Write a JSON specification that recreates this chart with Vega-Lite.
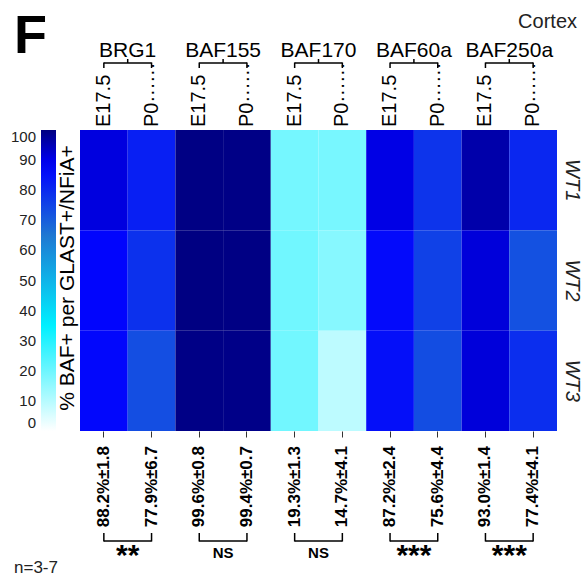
{
  "$schema": "https://vega.github.io/schema/vega-lite/v6.json",
  "width": 477,
  "height": 301,
  "autosize": {"type": "none"},
  "padding": {"left": 80, "top": 130, "right": 31, "bottom": 148},
  "background": "white",
  "config": {
    "view": {"stroke": null},
    "font": "Liberation Sans",
    "text": {"color": "black"},
    "rule": {"color": "black", "strokeWidth": 1.5}
  },
  "datasets": {
    "cells": [
      {"col": "BRG1 E17.5", "protein": "BRG1", "time": "E17.5", "rep": "WT1", "value": 91},
      {"col": "BRG1 E17.5", "protein": "BRG1", "time": "E17.5", "rep": "WT2", "value": 87},
      {"col": "BRG1 E17.5", "protein": "BRG1", "time": "E17.5", "rep": "WT3", "value": 86.6},
      {"col": "BRG1 P0", "protein": "BRG1", "time": "P0", "rep": "WT1", "value": 82},
      {"col": "BRG1 P0", "protein": "BRG1", "time": "P0", "rep": "WT2", "value": 78.7},
      {"col": "BRG1 P0", "protein": "BRG1", "time": "P0", "rep": "WT3", "value": 73},
      {"col": "BAF155 E17.5", "protein": "BAF155", "time": "E17.5", "rep": "WT1", "value": 99.6},
      {"col": "BAF155 E17.5", "protein": "BAF155", "time": "E17.5", "rep": "WT2", "value": 99.8},
      {"col": "BAF155 E17.5", "protein": "BAF155", "time": "E17.5", "rep": "WT3", "value": 99.4},
      {"col": "BAF155 P0", "protein": "BAF155", "time": "P0", "rep": "WT1", "value": 99.4},
      {"col": "BAF155 P0", "protein": "BAF155", "time": "P0", "rep": "WT2", "value": 99.6},
      {"col": "BAF155 P0", "protein": "BAF155", "time": "P0", "rep": "WT3", "value": 99.2},
      {"col": "BAF170 E17.5", "protein": "BAF170", "time": "E17.5", "rep": "WT1", "value": 19},
      {"col": "BAF170 E17.5", "protein": "BAF170", "time": "E17.5", "rep": "WT2", "value": 19.5},
      {"col": "BAF170 E17.5", "protein": "BAF170", "time": "E17.5", "rep": "WT3", "value": 19.4},
      {"col": "BAF170 P0", "protein": "BAF170", "time": "P0", "rep": "WT1", "value": 18.5},
      {"col": "BAF170 P0", "protein": "BAF170", "time": "P0", "rep": "WT2", "value": 16.5},
      {"col": "BAF170 P0", "protein": "BAF170", "time": "P0", "rep": "WT3", "value": 9.1},
      {"col": "BAF60a E17.5", "protein": "BAF60a", "time": "E17.5", "rep": "WT1", "value": 90.5},
      {"col": "BAF60a E17.5", "protein": "BAF60a", "time": "E17.5", "rep": "WT2", "value": 86},
      {"col": "BAF60a E17.5", "protein": "BAF60a", "time": "E17.5", "rep": "WT3", "value": 85.1},
      {"col": "BAF60a P0", "protein": "BAF60a", "time": "P0", "rep": "WT1", "value": 78},
      {"col": "BAF60a P0", "protein": "BAF60a", "time": "P0", "rep": "WT2", "value": 75.5},
      {"col": "BAF60a P0", "protein": "BAF60a", "time": "P0", "rep": "WT3", "value": 73.3},
      {"col": "BAF250a E17.5", "protein": "BAF250a", "time": "E17.5", "rep": "WT1", "value": 96},
      {"col": "BAF250a E17.5", "protein": "BAF250a", "time": "E17.5", "rep": "WT2", "value": 91.5},
      {"col": "BAF250a E17.5", "protein": "BAF250a", "time": "E17.5", "rep": "WT3", "value": 91.5},
      {"col": "BAF250a P0", "protein": "BAF250a", "time": "P0", "rep": "WT1", "value": 80.5},
      {"col": "BAF250a P0", "protein": "BAF250a", "time": "P0", "rep": "WT2", "value": 72.5},
      {"col": "BAF250a P0", "protein": "BAF250a", "time": "P0", "rep": "WT3", "value": 79.2}
    ],
    "summary": [
      {"col": "BRG1 E17.5", "tlabel": "E17.5", "pct": "88.2%±1.8"},
      {"col": "BRG1 P0", "tlabel": "P0······", "pct": "77.9%±6.7"},
      {"col": "BAF155 E17.5", "tlabel": "E17.5", "pct": "99.6%±0.8"},
      {"col": "BAF155 P0", "tlabel": "P0······", "pct": "99.4%±0.7"},
      {"col": "BAF170 E17.5", "tlabel": "E17.5", "pct": "19.3%±1.3"},
      {"col": "BAF170 P0", "tlabel": "P0······", "pct": "14.7%±4.1"},
      {"col": "BAF60a E17.5", "tlabel": "E17.5", "pct": "87.2%±2.4"},
      {"col": "BAF60a P0", "tlabel": "P0······", "pct": "75.6%±4.4"},
      {"col": "BAF250a E17.5", "tlabel": "E17.5", "pct": "93.0%±1.4"},
      {"col": "BAF250a P0", "tlabel": "P0······", "pct": "77.4%±4.1"}
    ],
    "groups": [
      {"protein": "BRG1", "first": "BRG1 E17.5", "last": "BRG1 P0", "sig": "**"},
      {"protein": "BAF155", "first": "BAF155 E17.5", "last": "BAF155 P0", "sig": "NS"},
      {"protein": "BAF170", "first": "BAF170 E17.5", "last": "BAF170 P0", "sig": "NS"},
      {"protein": "BAF60a", "first": "BAF60a E17.5", "last": "BAF60a P0", "sig": "***"},
      {"protein": "BAF250a", "first": "BAF250a E17.5", "last": "BAF250a P0", "sig": "***"}
    ]
  },
  "layer": [
    {
      "data": {"name": "cells"},
      "mark": {"type": "rect"},
      "encoding": {
        "x": {"field": "col", "type": "nominal", "sort": null,
              "scale": {"domain": ["BRG1 E17.5","BRG1 P0","BAF155 E17.5","BAF155 P0","BAF170 E17.5","BAF170 P0","BAF60a E17.5","BAF60a P0","BAF250a E17.5","BAF250a P0"], "paddingInner": 0, "paddingOuter": 0},
              "axis": {"orient": "bottom", "labels": false, "domain": false, "ticks": true, "tickSize": 6, "tickColor": "#333", "tickWidth": 1, "title": null}},
        "y": {"field": "rep", "type": "nominal", "sort": ["WT1","WT2","WT3"],
              "scale": {"paddingInner": 0, "paddingOuter": 0},
              "axis": {"orient": "right", "labelAngle": 90, "labelFontStyle": "italic", "labelFontSize": 20, "labelColor": "#222", "domain": false, "ticks": false, "labelPadding": 4, "title": null}},
        "color": {"field": "value", "type": "quantitative",
                  "scale": {"domain": [0, 35, 65, 88, 100], "range": ["#ffffff", "#00f0ff", "#1e78d2", "#0000ff", "#000080"], "interpolate": "rgb"},
                  "legend": {"orient": "none", "legendX": -39, "legendY": 0, "direction": "vertical",
                             "gradientLength": 301, "gradientThickness": 15,
                             "values": [0,10,20,30,40,50,60,70,80,90,100],
                             "labelOverlap": false, "labelFontSize": 15, "labelColor": "#222",
                             "labelOffset": -20,
                             "encode": {"labels": {"update": {"align": {"value": "right"}}}},
                             "title": null}}
      }
    },
    {
      "data": {"values": [{"t": "% BAF+ per GLAST+/NFiA+"}]},
      "mark": {"type": "text", "angle": 270, "align": "center", "baseline": "middle", "fontSize": 21},
      "encoding": {"x": {"value": -12}, "y": {"value": 148}, "text": {"field": "t"}}
    },
    {
      "data": {"name": "summary"},
      "mark": {"type": "text", "angle": 270, "align": "left", "baseline": "middle", "fontSize": 20},
      "encoding": {
        "x": {"field": "col", "type": "nominal", "sort": null},
        "y": {"value": -3},
        "text": {"field": "tlabel"}
      }
    },
    {
      "data": {"name": "summary"},
      "mark": {"type": "text", "angle": 270, "align": "right", "baseline": "middle", "fontSize": 17, "fontWeight": "bold"},
      "encoding": {
        "x": {"field": "col", "type": "nominal", "sort": null},
        "y": {"value": 316},
        "text": {"field": "pct"}
      }
    },
    {
      "data": {"name": "groups"},
      "mark": {"type": "text", "align": "center", "baseline": "alphabetic", "fontSize": 21},
      "encoding": {
        "x": {"field": "first", "type": "nominal", "sort": null, "bandPosition": 1},
        "y": {"value": -73},
        "text": {"field": "protein"}
      }
    },
    {
      "data": {"name": "groups"},
      "mark": {"type": "rule"},
      "encoding": {
        "x": {"field": "first", "type": "nominal", "sort": null, "bandPosition": 0.5},
        "x2": {"field": "last"},
        "y": {"value": -67}
      }
    },
    {
      "data": {"name": "summary"},
      "mark": {"type": "rule"},
      "encoding": {
        "x": {"field": "col", "type": "nominal", "sort": null},
        "y": {"value": -67.5},
        "y2": {"value": -62}
      }
    },
    {
      "data": {"name": "groups"},
      "mark": {"type": "rule"},
      "encoding": {
        "x": {"field": "first", "type": "nominal", "sort": null, "bandPosition": 1},
        "y": {"value": -67},
        "y2": {"value": -71}
      }
    },
    {
      "data": {"name": "groups"},
      "mark": {"type": "rule"},
      "encoding": {
        "x": {"field": "first", "type": "nominal", "sort": null, "bandPosition": 0.5},
        "x2": {"field": "last"},
        "y": {"value": 411}
      }
    },
    {
      "data": {"name": "summary"},
      "mark": {"type": "rule"},
      "encoding": {
        "x": {"field": "col", "type": "nominal", "sort": null},
        "y": {"value": 403},
        "y2": {"value": 411.5}
      }
    },
    {
      "data": {"name": "groups"},
      "transform": [{"filter": "datum.sig !== 'NS'"}],
      "mark": {"type": "text", "align": "center", "baseline": "alphabetic", "fontSize": 30, "fontWeight": "bold"},
      "encoding": {
        "x": {"field": "first", "type": "nominal", "sort": null, "bandPosition": 1},
        "y": {"value": 435},
        "text": {"field": "sig"}
      }
    },
    {
      "data": {"name": "groups"},
      "transform": [{"filter": "datum.sig === 'NS'"}],
      "mark": {"type": "text", "align": "center", "baseline": "alphabetic", "fontSize": 15, "fontWeight": "bold"},
      "encoding": {
        "x": {"field": "first", "type": "nominal", "sort": null, "bandPosition": 1},
        "y": {"value": 428},
        "text": {"field": "sig"}
      }
    },
    {
      "data": {"values": [{"t": "F"}]},
      "mark": {"type": "text", "align": "left", "baseline": "alphabetic", "fontSize": 54, "fontWeight": "bold"},
      "encoding": {"x": {"value": -66}, "y": {"value": -77}, "text": {"field": "t"}}
    },
    {
      "data": {"values": [{"t": "Cortex"}]},
      "mark": {"type": "text", "align": "right", "baseline": "alphabetic", "fontSize": 20, "color": "#222"},
      "encoding": {"x": {"value": 497}, "y": {"value": -102}, "text": {"field": "t"}}
    },
    {
      "data": {"values": [{"t": "n=3-7"}]},
      "mark": {"type": "text", "align": "left", "baseline": "alphabetic", "fontSize": 17, "color": "#222"},
      "encoding": {"x": {"value": -66}, "y": {"value": 443}, "text": {"field": "t"}}
    }
  ]
}
